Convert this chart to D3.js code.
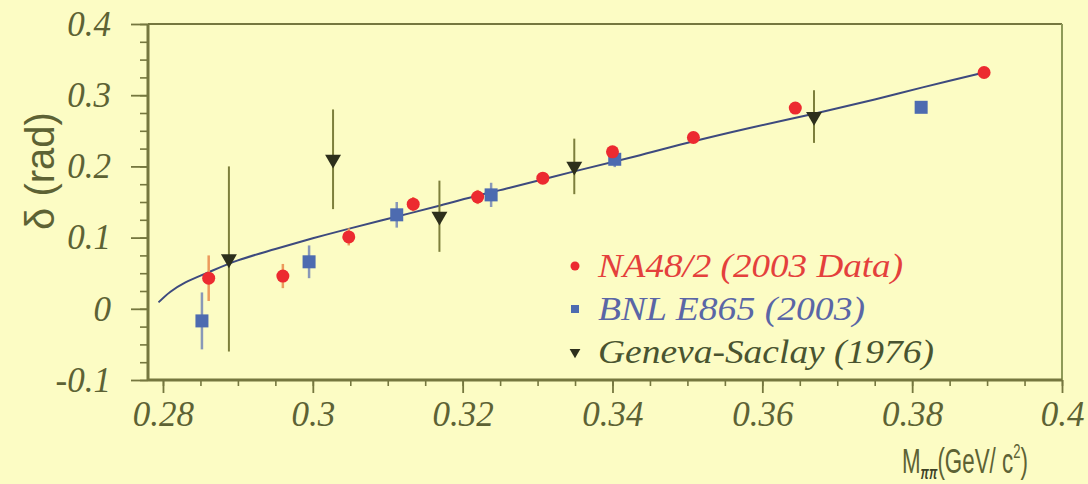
<!DOCTYPE html>
<html>
<head>
<meta charset="utf-8">
<script src="https://cdn.jsdelivr.net/npm/d3@7"></script>
<style>
  html, body { margin: 0; padding: 0; background: #fcfcc4; }
  svg { display: block; }
</style>
</head>
<body>
<svg id="chart" width="1088" height="484"></svg>
<script>
// Pi-pi phase shift delta vs. invariant mass M_pipi

// NA48/2 (2003 data)
const naMass  = [0.2861, 0.2960, 0.3048, 0.3134, 0.3220, 0.3307, 0.3400, 0.3508, 0.3644, 0.3896];
const naDelta = [0.043, 0.046, 0.101, 0.147, 0.157, 0.1835, 0.2205, 0.2406, 0.2819, 0.3319];
const naErr   = [0.032, 0.017, 0.012, 0.010, 0.010, 0.008, 0.008, 0.007, 0.007, 0.006];

// BNL E865 (2003)
const bnlMass  = [0.2852, 0.2995, 0.3112, 0.3238, 0.3403, 0.3812];
const bnlDelta = [-0.017, 0.066, 0.132, 0.160, 0.210, 0.283];
const bnlErr   = [0.040, 0.023, 0.018, 0.017, 0.011, 0.006];

// Geneva-Saclay (1976)
const gsMass  = [0.2888, 0.3027, 0.3169, 0.3349, 0.3669];
const gsDelta = [0.070, 0.210, 0.130, 0.200, 0.270];
const gsErr   = [0.130, 0.070, 0.050, 0.039, 0.037];

// Fit curve
const fitMass  = [0.2794, 0.2810, 0.2830, 0.2860, 0.2900, 0.2950, 0.3000, 0.3050, 0.3110, 0.3170, 0.3220, 0.3263, 0.3349, 0.3430, 0.3507, 0.3583, 0.3669, 0.3750, 0.3814, 0.3896];
const fitDelta = [0.009, 0.024, 0.037, 0.051, 0.068, 0.084, 0.099, 0.113, 0.129, 0.145, 0.159, 0.170, 0.193, 0.214, 0.235, 0.254, 0.274, 0.294, 0.311, 0.332];

// Axis ticks
const xMajor = [0.28, 0.30, 0.32, 0.34, 0.36, 0.38, 0.40];
const xLabels = ["0.28", "0.3", "0.32", "0.34", "0.36", "0.38", "0.4"];
const yMajor = [-0.1, 0, 0.1, 0.2, 0.3, 0.4];
const yLabels = ["-0.1", "0", "0.1", "0.2", "0.3", "0.4"];

const legendNames = ["NA48/2 (2003 Data)", "BNL E865 (2003)", "Geneva-Saclay (1976)"];

// ---- layout ----
const W = 1088, H = 484;
const L = 148, R = 1062, T = 24, B = 380;

const svg = d3.select("#chart");
svg.append("rect").attr("width", W).attr("height", H).attr("fill", "#fcfcc4");

const x = d3.scaleLinear().domain([0.278, 0.4]).range([L, R]);
const y = d3.scaleLinear().domain([-0.1, 0.4]).range([B, T]);

const axisCol = "#75773f";
const labelCol = "#5d6234";
const serif = "'Liberation Serif', 'Times New Roman', serif";
const sans = "'Liberation Sans', Arial, sans-serif";

// frame top/right
svg.append("line").attr("x1", L).attr("x2", R).attr("y1", T).attr("y2", T)
  .attr("stroke", axisCol).attr("stroke-width", 2);
svg.append("line").attr("x1", R).attr("x2", R).attr("y1", T).attr("y2", B)
  .attr("stroke", "#8e9a58").attr("stroke-width", 2);

// minor ticks
const xMinor = d3.range(0.28, 0.4001, 0.005).map(v => +v.toFixed(3));
const yMinor = d3.range(-0.1, 0.4001, 0.025).map(v => +v.toFixed(3));

const gxMinor = svg.append("g").attr("transform", `translate(0,${B})`)
  .call(d3.axisBottom(x).tickValues(xMinor).tickSize(6).tickFormat(""));
const gyMinor = svg.append("g").attr("transform", `translate(${L},0)`)
  .call(d3.axisLeft(y).tickValues(yMinor).tickSize(8).tickFormat(""));
[gxMinor, gyMinor].forEach(g => {
  g.select(".domain").remove();
  g.selectAll("line").attr("stroke", axisCol).attr("stroke-width", 1.6);
});

// major ticks + labels
const gx = svg.append("g").attr("transform", `translate(0,${B})`)
  .call(d3.axisBottom(x).tickValues(xMajor).tickSize(13).tickPadding(8)
    .tickFormat((d, i) => xLabels[i]));
const gy = svg.append("g").attr("transform", `translate(${L},0)`)
  .call(d3.axisLeft(y).tickValues(yMajor).tickSize(17).tickPadding(20)
    .tickFormat((d, i) => yLabels[i]));
[gx, gy].forEach(g => {
  g.select(".domain").remove();
  g.selectAll("line").attr("stroke", axisCol).attr("stroke-width", 1.8);
  g.selectAll("text").attr("fill", labelCol).attr("font-family", serif)
    .attr("font-style", "italic").attr("font-size", 35);
});
svg.append("line").attr("x1", L).attr("x2", R).attr("y1", B).attr("y2", B)
  .attr("stroke", axisCol).attr("stroke-width", 3);
svg.append("line").attr("x1", L).attr("x2", L).attr("y1", T).attr("y2", B)
  .attr("stroke", axisCol).attr("stroke-width", 3);

// axis titles
svg.append("text")
  .attr("transform", `translate(54,171) rotate(-90)`)
  .attr("text-anchor", "middle")
  .attr("font-family", sans).attr("font-size", 40)
  .attr("fill", labelCol)
  .text("δ (rad)");

// x title, drawn at natural width then squeezed horizontally into its slot
const xtG = svg.append("g");
const xt = xtG.append("text")
  .attr("x", 0).attr("y", 0)
  .attr("font-family", sans).attr("font-size", 36)
  .attr("fill", labelCol);
xt.append("tspan").text("M");
xt.append("tspan").attr("font-size", 19).attr("dy", 6).attr("font-style", "italic")
  .attr("font-weight", "bold").attr("fill", "#3e4226").text("ππ");
xt.append("tspan").attr("dy", -6).text("(GeV/ c");
xt.append("tspan").attr("font-size", 21).attr("dy", -15).text("2");
xt.append("tspan").attr("dy", 15).text(")");
const xtW = xt.node().getBBox().width;
const xtScale = 126 / xtW;
xtG.attr("transform", `translate(902,473) scale(${xtScale},1)`);

// fit curve
const fitPts = fitMass.map((m, i) => [m, fitDelta[i]]);
svg.append("path")
  .attr("d", d3.line().x(d => x(d[0])).y(d => y(d[1])).curve(d3.curveCatmullRom.alpha(0.5))(fitPts))
  .attr("fill", "none").attr("stroke", "#3d4a7e").attr("stroke-width", 2);

// data series
function series(mass, delta, err) {
  return mass.map((m, i) => ({ m, d: delta[i], e: err[i] }));
}
const na = series(naMass, naDelta, naErr);
const bnl = series(bnlMass, bnlDelta, bnlErr);
const gs = series(gsMass, gsDelta, gsErr);

function errorBars(data, color, w) {
  svg.append("g").selectAll("line").data(data).join("line")
    .attr("x1", d => x(d.m)).attr("x2", d => x(d.m))
    .attr("y1", d => y(d.d + d.e)).attr("y2", d => y(d.d - d.e))
    .attr("stroke", color).attr("stroke-width", w);
}
errorBars(gs, "#7d7f3c", 2);
errorBars(bnl, "#8898b8", 2.5);
errorBars(na, "#ec9a5c", 2.5);

const triangle = d3.symbol().type(d3.symbolTriangle).size(110);

// Geneva-Saclay down-triangles
svg.append("g").selectAll("path").data(gs).join("path")
  .attr("d", triangle)
  .attr("transform", d => `translate(${x(d.m)},${y(d.d)}) rotate(180)`)
  .attr("fill", "#2d2f1c");

// BNL squares
svg.append("g").selectAll("rect").data(bnl).join("rect")
  .attr("x", d => x(d.m) - 6.5).attr("y", d => y(d.d) - 6.5)
  .attr("width", 13).attr("height", 13)
  .attr("fill", "#4d6bb0");

// NA48/2 circles
svg.append("g").selectAll("circle").data(na).join("circle")
  .attr("cx", d => x(d.m)).attr("cy", d => y(d.d)).attr("r", 6.5)
  .attr("fill", "#ec2a30");

// legend
const legRows = [266, 309, 352];
const legColors = ["#e4403c", "#5a66a6", "#495430"];
const legWidths = [305, 267, 336];
const leg = svg.append("g");
leg.append("circle").attr("cx", 575).attr("cy", legRows[0]).attr("r", 4.5).attr("fill", "#ec2a30");
leg.append("rect").attr("x", 571).attr("y", legRows[1] - 4).attr("width", 8).attr("height", 8).attr("fill", "#4d6bb0");
leg.append("path").attr("d", d3.symbol().type(d3.symbolTriangle).size(50))
  .attr("transform", `translate(575,${legRows[2]}) rotate(180)`).attr("fill", "#2d2f1c");
leg.selectAll("text").data(legendNames).join("text")
  .attr("x", 598).attr("y", (d, i) => legRows[i] + 11)
  .attr("font-family", serif).attr("font-style", "italic").attr("font-size", 33)
  .attr("textLength", (d, i) => legWidths[i]).attr("lengthAdjust", "spacingAndGlyphs")
  .attr("fill", (d, i) => legColors[i])
  .text(d => d);
</script>
</body>
</html>
